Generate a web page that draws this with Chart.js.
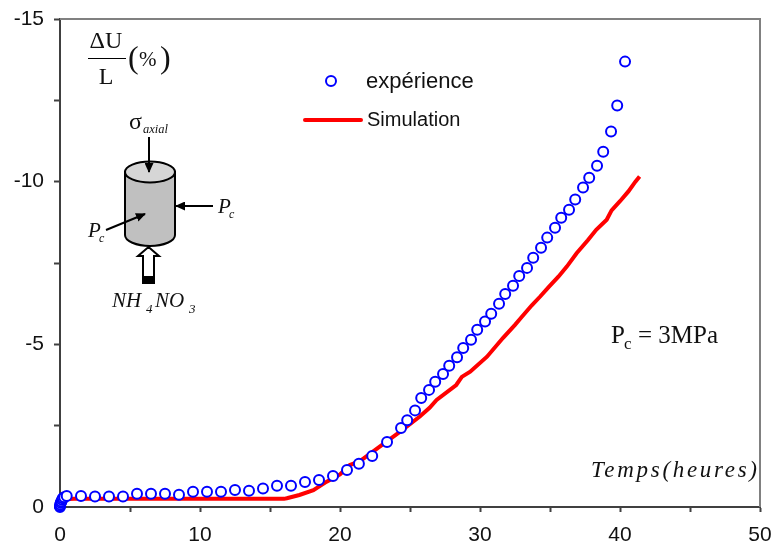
<!DOCTYPE html>
<html>
<head>
<meta charset="utf-8">
<script src="https://cdn.jsdelivr.net/npm/chart.js@4"></script>
<style>
	html, body { margin: 0; padding: 0; background: #fff; }
	#wrap { position: relative; width: 774px; height: 549px; }
	#wrap svg { position: absolute; left: 0; top: 0; }
	.sans { font-family: "Liberation Sans", Arial, sans-serif; fill: #111; }
	.serif { font-family: "Liberation Serif", "Times New Roman", serif; fill: #111; }
	.it { font-style: italic; }
</style>
</head>
<body>
<div id="wrap">
	<canvas id="chart" width="774" height="549"></canvas>
	<svg width="774" height="549" viewBox="0 0 774 549">
		<defs>
			<marker id="head" markerWidth="10" markerHeight="9" refX="9" refY="4.5" orient="auto" markerUnits="userSpaceOnUse">
				<path d="M0,0 L10,4.5 L0,9 Z" fill="#000"/>
			</marker>
		</defs>

		<!-- axis title top left -->
		<text class="serif" x="106" y="48" font-size="24" text-anchor="middle">ΔU</text>
		<line x1="88" x2="126" y1="58.5" y2="58.5" stroke="#000" stroke-width="1"/>
		<text class="serif" x="106" y="84" font-size="24" text-anchor="middle">L</text>
		<text class="serif" x="128" y="68" font-size="32">(</text>
		<text class="serif" x="139" y="66" font-size="21">%</text>
		<text class="serif" x="160" y="68" font-size="32">)</text>

		<!-- legend -->
		<circle cx="331" cy="81" r="5" fill="#fff" stroke="#0000ff" stroke-width="2"/>
		<text class="sans" x="366" y="88" font-size="22">expérience</text>
		<line x1="305" x2="361" y1="120" y2="120" stroke="#ff0000" stroke-width="4" stroke-linecap="round"/>
		<text class="sans" x="367" y="126" font-size="20">Simulation</text>

		<!-- sample sketch -->
		<text class="serif" x="129" y="129" font-size="24">σ</text>
		<text class="serif it" x="143" y="133" font-size="12.5">axial</text>
		<path d="M125,172 L125,235 A25,11 0 0 0 175,235 L175,172 Z" fill="#c0c0c0" stroke="#000" stroke-width="2"/>
		<ellipse cx="150" cy="172" rx="25" ry="10.5" fill="#d6d6d6" stroke="#000" stroke-width="2"/>
		<line x1="149" x2="149" y1="137" y2="172" stroke="#000" stroke-width="2" marker-end="url(#head)"/>
		<line x1="213" x2="176" y1="206" y2="206" stroke="#000" stroke-width="2" marker-end="url(#head)"/>
		<line x1="106" x2="145" y1="230" y2="214" stroke="#000" stroke-width="2" marker-end="url(#head)"/>
		<text class="serif it" x="218" y="213" font-size="21">P</text>
		<text class="serif it" x="229" y="218" font-size="12">c</text>
		<text class="serif it" x="88" y="237" font-size="21">P</text>
		<text class="serif it" x="99" y="242" font-size="12">c</text>
		<path d="M148.5,247 L159,256 L154,256 L154,283 L143,283 L143,256 L138,256 Z" fill="#fff" stroke="#000" stroke-width="2"/>
		<rect x="142" y="276" width="13" height="7" fill="#000"/>
		<text class="serif it" x="112" y="307" font-size="21">NH</text>
		<text class="serif it" x="146" y="313" font-size="13">4</text>
		<text class="serif it" x="155" y="307" font-size="21">NO</text>
		<text class="serif it" x="189" y="313" font-size="13">3</text>

		<!-- right side notes -->
		<text class="serif" x="611" y="343" font-size="25">P</text>
		<text class="serif" x="624" y="349" font-size="17">c</text>
		<text class="serif" x="638" y="343" font-size="25">= 3MPa</text>
		<text class="serif it" x="591" y="477" font-size="23" textLength="166" lengthAdjust="spacing">Temps(heures)</text>
	</svg>
</div>

<script>
const xLabelStep = 10
const yLabelStep = 5

const expTime = [
	0, 0, 0.02, 0.05, 0.1, 0.15, 0.2, 0.3, 0.48,
	1.5, 2.5, 3.5, 4.5, 5.5, 6.5, 7.5, 8.5, 9.5, 10.5, 11.5, 12.5, 13.5, 14.5, 15.5, 16.5, 17.5, 18.5, 19.5,
	20.5, 21.35, 22.3, 23.36, 24.36, 24.8, 25.36, 25.8, 26.36, 26.8, 27.36, 27.8, 28.36, 28.8, 29.36, 29.8,
	30.36, 30.8, 31.36, 31.8, 32.36, 32.8, 33.36, 33.8, 34.36, 34.8, 35.36, 35.8, 36.36, 36.8, 37.36, 37.8,
	38.36, 38.8, 39.36, 39.8, 40.36,
]
const expStrain = [
	0, -0.03, -0.08, -0.13, -0.17, -0.22, -0.27, -0.3, -0.34,
	-0.34, -0.32, -0.32, -0.32, -0.41, -0.41, -0.41, -0.38, -0.47, -0.47, -0.47, -0.52, -0.5, -0.57, -0.65, -0.65, -0.77, -0.83, -0.95,
	-1.14, -1.33, -1.57, -2, -2.43, -2.67, -2.97, -3.35, -3.6, -3.85, -4.09, -4.34, -4.6, -4.89, -5.14, -5.45,
	-5.7, -5.94, -6.25, -6.55, -6.8, -7.1, -7.35, -7.66, -7.97, -8.28, -8.58, -8.89, -9.14, -9.45, -9.82, -10.12,
	-10.49, -10.92, -11.54, -12.34, -13.69,
]

const simTime = [
	0, 0.1, 0.3, 1, 4, 8, 12, 16, 16.2, 17.1, 18.1, 19.05, 20, 20.7, 21.4, 22.86, 24.3, 25.7, 26.4, 26.9,
	28.3, 28.7, 29.3, 30.5, 31.65, 32.5, 32.9, 33.7, 34.3, 34.9, 35.6, 36.2, 36.9, 37.7, 38.3, 39.05, 39.4,
	40, 40.6, 41.1, 41.4,
]
const simStrain = [
	0, -0.15, -0.24, -0.25, -0.25, -0.25, -0.25, -0.25, -0.27, -0.37, -0.52, -0.78, -1, -1.29, -1.4, -1.86, -2.32, -2.78, -3.05, -3.29,
	-3.75, -4, -4.16, -4.62, -5.2, -5.6, -5.8, -6.2, -6.47, -6.76, -7.08, -7.39, -7.8, -8.2, -8.52, -8.83, -9.12,
	-9.4, -9.7, -10, -10.16,
]

const toPoints = (xs, ys) => xs.map((x, i) => ({ x: x, y: ys[i] }))

// top and right edges of the frame are lighter than the two axes
const framePlugin = {
	id: "frame",
	beforeDatasetsDraw(chart) {
		const { ctx, chartArea: a } = chart
		ctx.save()
		ctx.strokeStyle = "#808080"
		ctx.lineWidth = 2
		ctx.beginPath()
		ctx.moveTo(a.left, a.top)
		ctx.lineTo(a.right, a.top)
		ctx.lineTo(a.right, a.bottom)
		ctx.stroke()
		ctx.restore()
	},
}

const tickFont = { family: "'Liberation Sans', Arial, sans-serif", size: 21 }

new Chart(document.getElementById("chart"), {
	type: "scatter",
	plugins: [framePlugin],
	data: {
		datasets: [
			{
				label: "expérience",
				data: toPoints(expTime, expStrain),
				showLine: false,
				pointStyle: "circle",
				pointRadius: 5,
				pointBorderWidth: 2,
				pointBorderColor: "#0000ff",
				pointBackgroundColor: "#ffffff",
				clip: false,
			},
			{
				label: "Simulation",
				data: toPoints(simTime, simStrain),
				showLine: true,
				borderColor: "#ff0000",
				borderWidth: 4,
				pointRadius: 0,
				tension: 0,
				clip: false,
			},
		],
	},
	options: {
		responsive: false,
		animation: false,
		layout: { padding: { top: 19, right: 14, left: 0, bottom: 0 } },
		plugins: { legend: { display: false }, tooltip: { enabled: false } },
		scales: {
			x: {
				type: "linear",
				min: 0,
				max: 50,
				afterFit: (scale) => {
					scale.height = 42
					scale.paddingLeft = 0
					scale.paddingRight = 0
				},
				border: { color: "#404040", width: 2 },
				grid: { drawOnChartArea: false, color: "#404040", tickLength: 5, tickWidth: 2 },
				ticks: {
					stepSize: 5,
					autoSkip: false,
					maxRotation: 0,
					padding: 11,
					color: "#111",
					font: tickFont,
					callback: (v) => (v % xLabelStep === 0 ? String(v) : ""),
				},
			},
			y: {
				type: "linear",
				min: -15,
				max: 0,
				reverse: true,
				afterFit: (scale) => {
					scale.width = 60
					scale.paddingTop = 0
					scale.paddingBottom = 0
				},
				border: { color: "#404040", width: 2 },
				grid: { drawOnChartArea: false, color: "#404040", tickLength: 6, tickWidth: 2 },
				ticks: {
					stepSize: 2.5,
					autoSkip: false,
					padding: 10,
					color: "#111",
					font: tickFont,
					callback: (v) => (v % yLabelStep === 0 ? String(v) : ""),
				},
			},
		},
	},
})
</script>
</body>
</html>
